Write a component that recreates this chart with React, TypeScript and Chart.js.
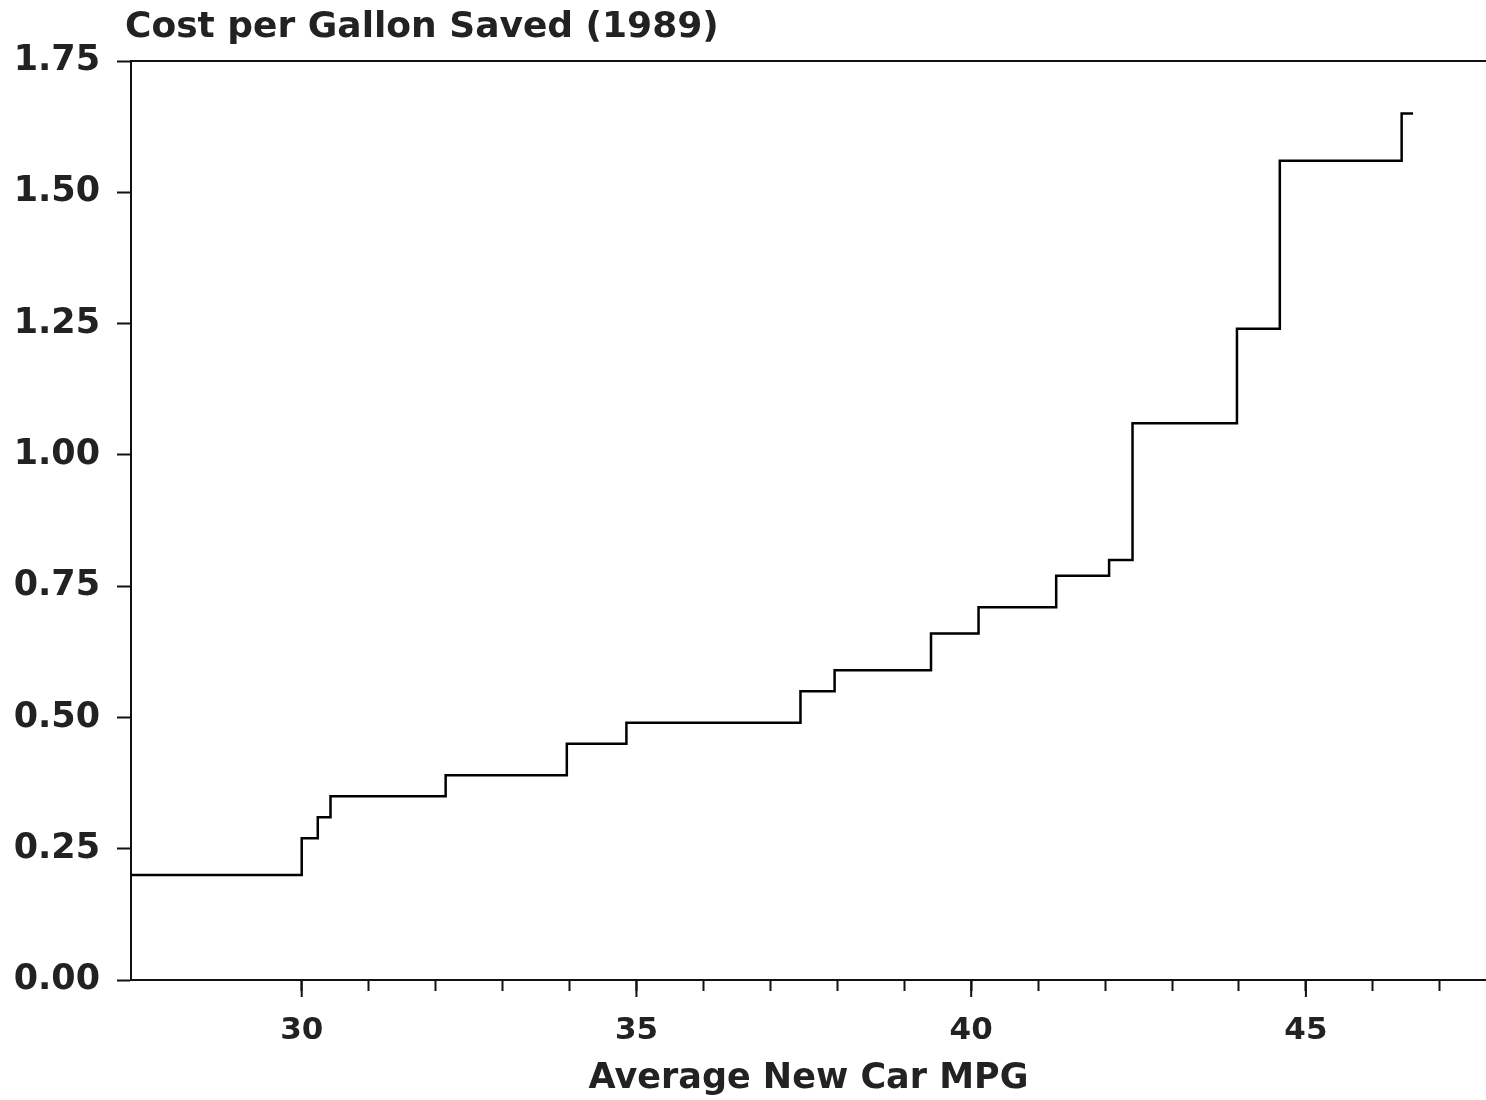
import React, { useEffect, useRef } from "react";
import { Chart, registerables } from "chart.js";

Chart.register(...registerables);

// ---- Data ----
const chartTitle = "Cost per Gallon Saved (1989)";
const xAxisTitle = "Average New Car MPG";

// Average new car MPG at which each cost level begins
const mpgSteps = [27.45, 30.0, 30.24, 30.43, 32.15, 33.96, 34.85, 37.45, 37.96, 39.4, 40.11, 41.27, 42.06, 42.41, 43.97, 44.61, 46.43, 46.6];
// Cost per gallon saved (1989 $)
const costPerGallon = [0.2, 0.27, 0.31, 0.35, 0.39, 0.45, 0.49, 0.55, 0.59, 0.66, 0.71, 0.77, 0.8, 1.06, 1.24, 1.56, 1.65, 1.65];

const xMin = 27.45;
const xMax = 47.69;
const xTickValues = [30, 31, 32, 33, 34, 35, 36, 37, 38, 39, 40, 41, 42, 43, 44, 45, 46, 47];
const xLabelValues = [30, 35, 40, 45];
const yMin = 0;
const yMax = 1.75;
const yStep = 0.25;

const FONT = '"DejaVu Sans", "Liberation Sans", Arial, sans-serif';
const TEXT_COLOR = "#222";
const LINE_COLOR = "#111";

const framePlugin = {
  id: "framePlugin",
  afterDraw(chart: any) {
    const { ctx, chartArea, scales } = chart;
    ctx.save();
    ctx.strokeStyle = LINE_COLOR;
    ctx.lineWidth = 2;
    // top frame line
    ctx.beginPath();
    ctx.moveTo(chartArea.left - 1, chartArea.top);
    ctx.lineTo(chartArea.right, chartArea.top);
    ctx.stroke();
    // longer major ticks on x axis
    const xs = scales.x;
    ctx.beginPath();
    xLabelValues.forEach((v) => {
      const px = xs.getPixelForValue(v);
      ctx.moveTo(px, chartArea.bottom);
      ctx.lineTo(px, chartArea.bottom + 17);
    });
    ctx.stroke();
    // title
    ctx.fillStyle = TEXT_COLOR;
    ctx.font = `bold 36px ${FONT}`;
    ctx.textAlign = "left";
    ctx.textBaseline = "alphabetic";
    ctx.fillText(chartTitle, chartArea.left - 6, 37);
    ctx.restore();
  },
};

export default function App() {
  const canvasRef = useRef<HTMLCanvasElement | null>(null);

  useEffect(() => {
    document.body.style.margin = "0";
    const canvas = canvasRef.current;
    if (!canvas) return;
    const points = mpgSteps.map((x, i) => ({ x, y: costPerGallon[i] }));
    const chart = new Chart(canvas, {
      type: "line",
      data: {
        datasets: [
          {
            data: points,
            stepped: "before",
            borderColor: "#000",
            borderWidth: 2.5,
            pointRadius: 0,
            fill: false,
          },
        ],
      },
      options: {
        animation: false,
        responsive: false,
        devicePixelRatio: 1,
        layout: { padding: { top: 61, left: 0, right: 0, bottom: 0 } },
        plugins: {
          legend: { display: false },
          tooltip: { enabled: false },
          title: { display: false },
        },
        scales: {
          x: {
            type: "linear",
            min: xMin,
            max: xMax,
            afterBuildTicks: (axis: any) => {
              axis.ticks = xTickValues.map((v) => ({ value: v }));
            },
            afterFit: (scale: any) => {
              scale.height = 120;
            },
            ticks: {
              autoSkip: false,
              maxRotation: 0,
              padding: 21,
              color: TEXT_COLOR,
              font: { family: FONT, size: 31, weight: "bold" },
              callback: (v: any) => (xLabelValues.includes(Number(v)) ? String(v) : ""),
            },
            grid: {
              drawOnChartArea: false,
              drawTicks: true,
              tickLength: 11,
              tickWidth: 2,
              tickColor: LINE_COLOR,
            },
            border: { display: true, color: LINE_COLOR, width: 2 },
            title: {
              display: true,
              text: xAxisTitle,
              color: TEXT_COLOR,
              font: { family: FONT, size: 35, weight: "bold" },
              padding: { top: 0, bottom: 0 },
            },
          },
          y: {
            type: "linear",
            min: yMin,
            max: yMax,
            afterFit: (scale: any) => {
              scale.width = 131;
            },
            ticks: {
              stepSize: yStep,
              padding: 17,
              color: TEXT_COLOR,
              font: { family: FONT, size: 35, weight: "bold" },
              callback: (v: any) => Number(v).toFixed(2),
            },
            grid: {
              drawOnChartArea: false,
              drawTicks: true,
              tickLength: 14,
              tickWidth: 2,
              tickColor: LINE_COLOR,
            },
            border: { display: true, color: LINE_COLOR, width: 2 },
          },
        },
      },
      plugins: [framePlugin],
    } as any);
    return () => chart.destroy();
  }, []);

  return (
    <div style={{ position: "absolute", left: 0, top: 0, width: 1486, height: 1100, background: "#fff" }}>
      <canvas ref={canvasRef} width={1486} height={1100} style={{ width: 1486, height: 1100, display: "block" }} />
    </div>
  );
}
